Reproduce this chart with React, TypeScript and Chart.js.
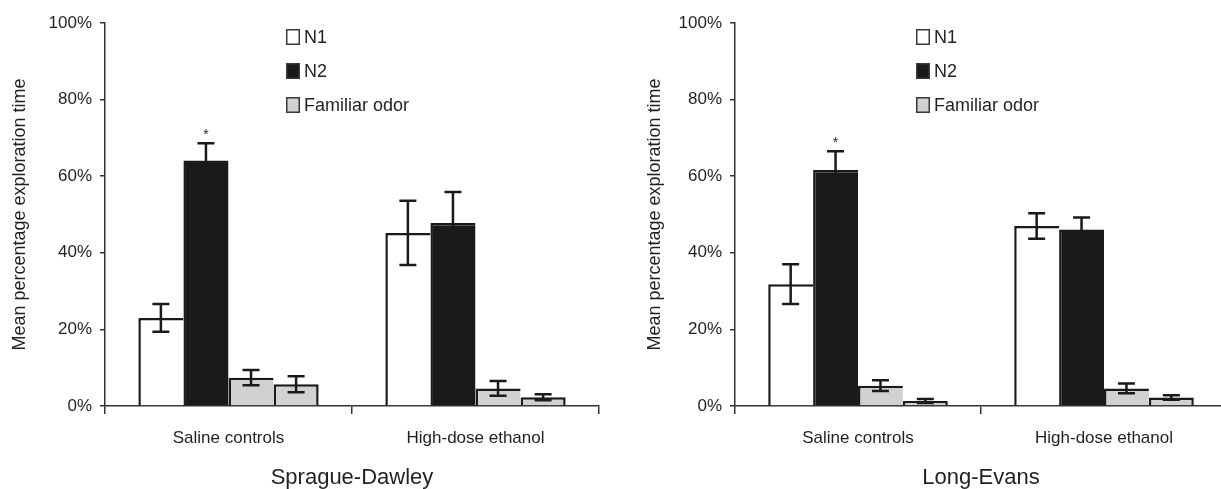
import React, { useEffect, useRef } from "react";
import { Chart, registerables } from "chart.js";

Chart.register(...registerables);

// ---------- data ----------
const categories = ["Saline controls", "High-dose ethanol"];
const seriesLabels = ["N1", "N2", "Familiar odor", "Familiar odor"];
const legendLabels = ["N1", "N2", "Familiar odor"];
const yTicks = [0, 20, 40, 60, 80, 100];
const yTitle = "Mean percentage exploration time";

const sdTitle = "Sprague-Dawley";
const sdN1 = [23.0, 45.2];
const sdN1Err = [3.6, 8.4];
const sdN2 = [64.1, 47.8];
const sdN2Err = [4.5, 8.1];
const sdFam1 = [7.4, 4.6];
const sdFam1Err = [2.0, 1.9];
const sdFam2 = [5.7, 2.3];
const sdFam2Err = [2.1, 0.8];
const sdStars = [[1, 0]];

const leTitle = "Long-Evans";
const leN1 = [31.8, 47.0];
const leN1Err = [5.2, 3.3];
const leN2 = [61.6, 46.1];
const leN2Err = [4.9, 3.1];
const leFam1 = [5.3, 4.6];
const leFam1Err = [1.4, 1.3];
const leFam2 = [1.3, 2.2];
const leFam2Err = [0.5, 0.6];
const leStars = [[1, 0]];

// ---------- style ----------
const FONT = "'Liberation Sans', Arial, Helvetica, sans-serif";
const TEXT = "#231f20";
const INK = "#1a1a1a";
const GRAY = "#d0d1d0";
const WHITE = "#ffffff";
const FILLS = [WHITE, INK, GRAY, GRAY];

const overlayPlugin = {
  id: "overlay",
  afterDatasetsDraw(chart: any) {
    const ctx = chart.ctx;
    const ys = chart.scales.y;
    chart.data.datasets.forEach((ds: any, di: number) => {
      const meta = chart.getDatasetMeta(di);
      meta.data.forEach((el: any, i: number) => {
        const v = ds.data[i];
        const e = ds.errorBars[i];
        const top = ys.getPixelForValue(v + e);
        const bot = ys.getPixelForValue(v - e);
        const x = el.x;
        const cw = 8.5;
        ctx.save();
        ctx.strokeStyle = INK;
        ctx.lineWidth = 2.5;
        ctx.beginPath();
        ctx.moveTo(x, top);
        ctx.lineTo(x, bot);
        ctx.moveTo(x - cw, top);
        ctx.lineTo(x + cw, top);
        ctx.moveTo(x - cw, bot);
        ctx.lineTo(x + cw, bot);
        ctx.stroke();
        ctx.restore();
      });
    });
  },
  afterDraw(chart: any, _args: any, opts: any) {
    const ctx = chart.ctx;
    const ca = chart.chartArea;
    const ys = chart.scales.y;
    // stars
    (opts.stars || []).forEach((s: number[]) => {
      const ds = chart.data.datasets[s[0]];
      const el = chart.getDatasetMeta(s[0]).data[s[1]];
      const top = ys.getPixelForValue(ds.data[s[1]] + ds.errorBars[s[1]]);
      ctx.save();
      ctx.fillStyle = TEXT;
      ctx.font = `14px ${FONT}`;
      ctx.textAlign = "center";
      ctx.textBaseline = "middle";
      ctx.fillText("*", el.x, top - 8);
      ctx.restore();
    });
    // legend
    legendLabels.forEach((lab, k) => {
      const bx = ca.left + 181;
      const cy = ca.top + 14 + k * 34;
      ctx.save();
      ctx.fillStyle = chart.data.datasets[k].backgroundColor;
      ctx.fillRect(bx, cy - 8, 14, 16);
      ctx.strokeStyle = "#3a3a3a";
      ctx.lineWidth = 1.5;
      ctx.strokeRect(bx + 0.75, cy - 7.25, 12.5, 14.5);
      ctx.fillStyle = TEXT;
      ctx.font = `18px ${FONT}`;
      ctx.textAlign = "left";
      ctx.textBaseline = "middle";
      ctx.fillText(lab, bx + 18, cy + 1);
      ctx.restore();
    });
  },
};

type PanelProps = {
  title: string;
  values: number[][];
  errors: number[][];
  stars: number[][];
  width: number;
  axisWidth: number;
  padRight: number;
  yTitlePad: number;
};

function Panel(p: PanelProps) {
  const ref = useRef<HTMLCanvasElement | null>(null);
  useEffect(() => {
    if (!ref.current) return;
    const datasets = p.values.map((vals, i) => ({
      label: seriesLabels[i],
      data: vals,
      errorBars: p.errors[i],
      backgroundColor: FILLS[i],
      borderColor: INK,
      borderWidth:
        i === 3
          ? { top: 2.5, left: 2.5, right: 2.5, bottom: 0 }
          : { top: 2.5, left: 2.5, right: 0, bottom: 0 },
      borderSkipped: "bottom",
      inflateAmount: 0,
      categoryPercentage: 0.73,
      barPercentage: 1.0,
    }));
    const chart = new Chart(ref.current, {
      type: "bar",
      data: { labels: categories, datasets: datasets as any },
      plugins: [overlayPlugin as any],
      options: {
        animation: false,
        responsive: false,
        events: [],
        layout: { padding: { top: 23, right: p.padRight, left: 0, bottom: 0 } },
        plugins: {
          legend: { display: false },
          tooltip: { enabled: false },
          overlay: { stars: p.stars },
        } as any,
        scales: {
          x: {
            grid: {
              drawOnChartArea: false,
              tickLength: 8,
              color: "#333",
              lineWidth: 1.5,
              offset: true,
            },
            border: { color: "#333", width: 1.5 },
            ticks: { font: { family: FONT, size: 17 }, color: TEXT, padding: 14 },
            title: {
              display: true,
              text: p.title,
              color: TEXT,
              font: { family: FONT, size: 22, lineHeight: 1 },
              padding: { top: 0, bottom: 0 },
            },
            afterFit: (s: any) => {
              s.height = 83;
            },
          },
          y: {
            min: 0,
            max: 100,
            afterBuildTicks: (s: any) => {
              s.ticks = yTicks.map((v) => ({ value: v }));
            },
            grid: {
              drawOnChartArea: false,
              tickLength: 5,
              color: "#333",
              lineWidth: 1.5,
            },
            border: { color: "#333", width: 1.5 },
            ticks: {
              font: { family: FONT, size: 17 },
              color: TEXT,
              padding: 8,
              callback: (v: any) => `${v}%`,
            },
            title: {
              display: true,
              text: yTitle,
              color: TEXT,
              font: { family: FONT, size: 18, lineHeight: 1 },
              padding: { top: p.yTitlePad, bottom: 0 },
            },
            afterFit: (s: any) => {
              s.width = p.axisWidth;
            },
          },
        },
      } as any,
    });
    return () => chart.destroy();
  }, []);
  return <canvas ref={ref} width={p.width} height={489} style={{ display: "block" }} />;
}

export default function App() {
  return (
    <div
      style={{
        position: "fixed",
        left: 0,
        top: 0,
        width: 1221,
        height: 489,
        overflow: "hidden",
        background: "#fff",
      }}
    >
      <div style={{ position: "absolute", left: 0, top: 0 }}>
        <Panel
          title={sdTitle}
          values={[sdN1, sdN2, sdFam1, sdFam2]}
          errors={[sdN1Err, sdN2Err, sdFam1Err, sdFam2Err]}
          stars={sdStars}
          width={610}
          axisWidth={105}
          padRight={11}
          yTitlePad={11.5}
        />
      </div>
      <div style={{ position: "absolute", left: 610, top: 0 }}>
        <Panel
          title={leTitle}
          values={[leN1, leN2, leFam1, leFam2]}
          errors={[leN1Err, leN2Err, leFam1Err, leFam2Err]}
          stars={leStars}
          width={620}
          axisWidth={125}
          padRight={3}
          yTitlePad={36}
        />
      </div>
    </div>
  );
}
